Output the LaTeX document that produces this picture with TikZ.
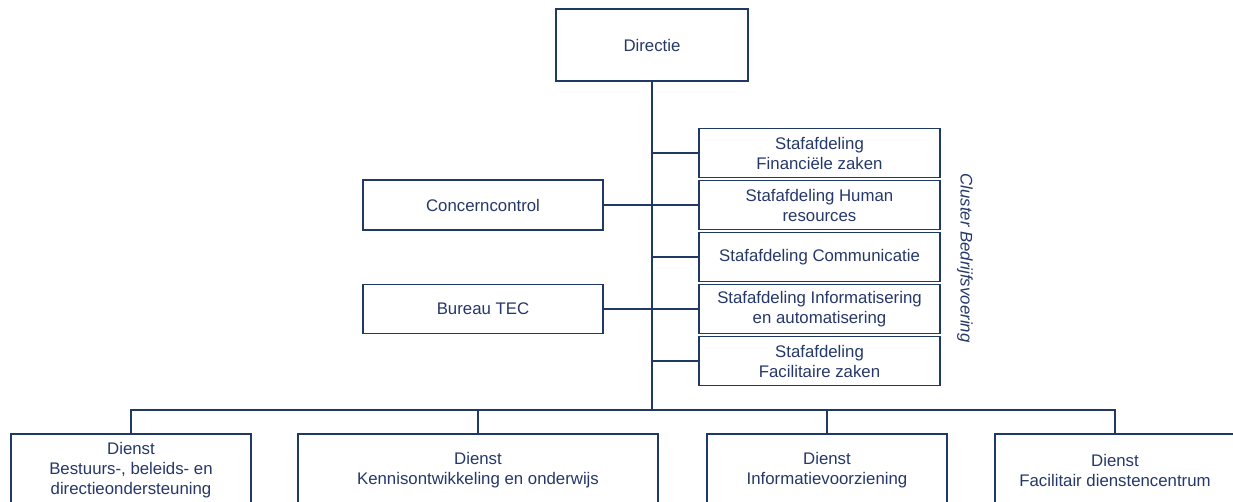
\documentclass[tikz,border=0pt]{standalone}
\usepackage{fontspec}
\setmainfont{Liberation Sans}
\definecolor{navy}{RGB}{31,56,100}
\definecolor{txt}{RGB}{38,56,105}
\begin{document}
\begin{tikzpicture}[x=1pt,y=-1pt,
  box/.style={draw=navy,line width=1.6pt,inner sep=0pt,align=center,text=txt,
    font=\fontsize{16.8}{20}\selectfont,minimum width=240pt,minimum height=49pt},
  conn/.style={draw=navy,line width=1.8pt}]
\useasboundingbox (0,0) rectangle (1233,501);
\clip (0,0) rectangle (1233,501);
\fill[white] (0,0) rectangle (1233,501);
\node[box,minimum width=192pt,minimum height=72pt] (dir) at (652,45) {Directie};
\node[box,minimum width=241pt] (s1) at (819.5,153) {Stafafdeling\\Financiële zaken};
\node[box,minimum width=241pt] (s2) at (819.5,205) {Stafafdeling Human\\resources};
\node[box,minimum width=241pt] (s3) at (819.5,257) {Stafafdeling Communicatie};
\node[box,minimum width=241pt] (s4) at (819.5,309) {Stafafdeling Informatisering\\en automatisering};
\node[box,minimum width=241pt] (s5) at (819.5,361) {Stafafdeling\\Facilitaire zaken};
\node[box,minimum height=50pt] (cc) at (483,205) {Concerncontrol};
\node[box] (tec) at (483,309) {Bureau TEC};
\node[text=txt,font=\fontsize{16.8}{20}\selectfont\itshape,rotate=-90] (cl) at (965,258) {Cluster Bedrijfsvoering};
\node[box,minimum height=72pt] (b1) at (131,470) {Dienst\\Bestuurs-, beleids- en\\directieondersteuning};
\node[box,minimum width=360pt,minimum height=72pt] (b2) at (478,470) {Dienst\\Kennisontwikkeling en onderwijs};
\node[box,minimum height=72pt] (b3) at (827,470) {Dienst\\Informatievoorziening};
\node[box,minimum height=72pt] (b4) at (1115,470) {Dienst\\Facilitair dienstencentrum};
\coordinate (bar) at (652,410);
\draw[conn] (dir.south) -- (bar);
\draw[conn] (b1.north) |- (bar) -| (b4.north);
\draw[conn] (b2.north) -- (b2.north |- bar);
\draw[conn] (b3.north) -- (b3.north |- bar);
\draw[conn] (s1.west) -- (s1.west -| dir.south);
\draw[conn] (cc.east) -- (cc.east -| s2.west);
\draw[conn] (s3.west) -- (s3.west -| dir.south);
\draw[conn] (tec.east) -- (tec.east -| s4.west);
\draw[conn] (s5.west) -- (s5.west -| dir.south);
\end{tikzpicture}
\end{document}
